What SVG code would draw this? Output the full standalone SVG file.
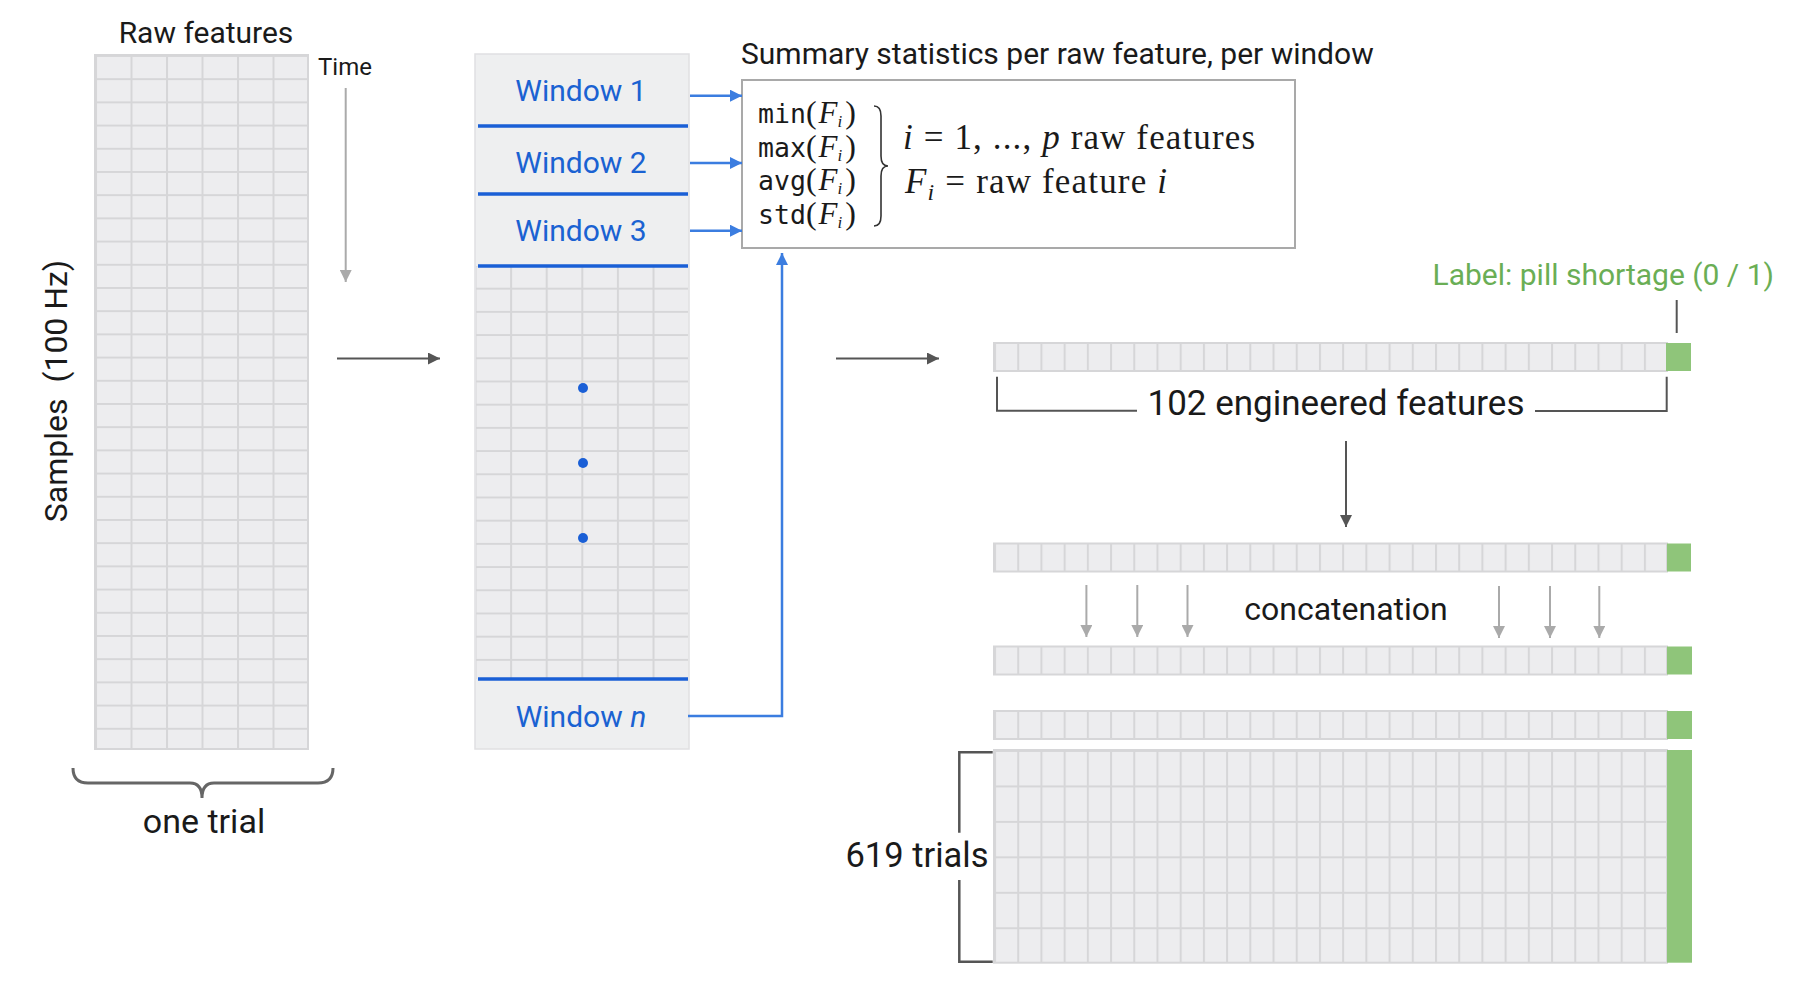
<svg xmlns="http://www.w3.org/2000/svg" width="1796" height="990" viewBox="0 0 1796 990">
<style>
.sans{font-family:Roboto,"Liberation Sans",Arial,sans-serif;fill:#1a1a1a}
.blue{fill:#1a62d2}
.tt{font-family:"DejaVu Sans Mono","Liberation Mono",monospace;font-size:26.5px;fill:#1a1a1a}
.m{font-family:"Liberation Serif","Times New Roman",serif;font-size:32px}
.mi{font-family:"Liberation Serif","Times New Roman",serif;font-size:31px;font-style:italic}
.sub{font-family:"Liberation Serif","Times New Roman",serif;font-size:17px;font-style:italic}
.math{font-family:"Liberation Serif","Times New Roman",serif;font-size:35px;fill:#1a1a1a}
.it{font-style:italic}
.cellbox{stroke:#d6d6d8;stroke-width:2}
.conn-dark{stroke:#555;stroke-width:2;fill:none}
.conn-light{stroke:#aaa;stroke-width:2;fill:none}
.conn-blue{stroke:#3b7de0;stroke-width:2.5;fill:none}
.wline{stroke:#1a5fd6;stroke-width:3.5}
.green{fill:#8fc57a}
</style>
<defs>
<pattern id="pRaw" patternUnits="userSpaceOnUse" x="95" y="55" width="35.5" height="23.2">
<rect width="35.5" height="23.2" fill="#ededef"/>
<path d="M0 1H35.5M1 0V23.2" stroke="#d6d6d8" stroke-width="2"/>
</pattern>
<pattern id="pWin" patternUnits="userSpaceOnUse" x="474.5" y="264.5" width="35.6" height="23.2">
<rect width="35.6" height="23.2" fill="#ededef"/>
<path d="M0 1H35.6M1 0V23.2" stroke="#d6d6d8" stroke-width="2"/>
</pattern>
<pattern id="pRow" patternUnits="userSpaceOnUse" x="994" y="0" width="23.21" height="990">
<rect width="23.21" height="990" fill="#ededef"/>
<path d="M1 0V990" stroke="#d6d6d8" stroke-width="2"/>
</pattern>
<pattern id="pBig" patternUnits="userSpaceOnUse" x="994" y="750" width="23.21" height="35.45">
<rect width="23.21" height="35.45" fill="#ededef"/>
<path d="M0 1H23.21M1 0V35.45" stroke="#d6d6d8" stroke-width="2"/>
</pattern>
<marker id="ahDark" markerUnits="userSpaceOnUse" markerWidth="14" markerHeight="12" refX="12" refY="6" orient="auto">
<path d="M0 0L12 6L0 12Z" fill="#555"/>
</marker>
<marker id="ahLight" markerUnits="userSpaceOnUse" markerWidth="14" markerHeight="12" refX="12" refY="6" orient="auto">
<path d="M0 0L12 6L0 12Z" fill="#aaa"/>
</marker>
<marker id="ahBlue" markerUnits="userSpaceOnUse" markerWidth="14" markerHeight="12" refX="12" refY="6" orient="auto">
<path d="M0 0L12 6L0 12Z" fill="#3b7de0"/>
</marker>
</defs>
<rect width="1796" height="990" fill="#ffffff"/>

<g id="raw-features">
<text class="sans" x="206" y="43" font-size="30" text-anchor="middle">Raw features</text>
<rect x="95" y="55" width="213" height="694" fill="url(#pRaw)" class="cellbox"/>
<text class="sans" x="318" y="75" font-size="24">Time</text>
<text class="sans" x="67" y="391" font-size="32" text-anchor="middle" transform="rotate(-90 67 391)" xml:space="preserve">Samples  (100 Hz)</text>
<path d="M73 768Q73 783 88 783H190Q202 783 202 798Q202 783 214 783H318Q333 783 333 768" fill="none" stroke="#666" stroke-width="3"/>
<text class="sans" x="204" y="833" font-size="34" text-anchor="middle">one trial</text>
</g>

<g id="windows">
<rect x="475" y="54" width="214" height="695" fill="#eeeff0" stroke="#e0e0e2" stroke-width="1.5"/>
<rect x="476" y="266" width="212" height="413" fill="url(#pWin)"/>
<line class="wline" x1="478" y1="126" x2="688" y2="126"/>
<line class="wline" x1="478" y1="194" x2="688" y2="194"/>
<line class="wline" x1="478" y1="266" x2="688" y2="266"/>
<line class="wline" x1="478" y1="679" x2="688" y2="679"/>
<text class="sans blue" x="581" y="101" font-size="30" text-anchor="middle">Window 1</text>
<text class="sans blue" x="581" y="173" font-size="30" text-anchor="middle">Window 2</text>
<text class="sans blue" x="581" y="241" font-size="30" text-anchor="middle">Window 3</text>
<text class="sans blue" x="581" y="727" font-size="30" text-anchor="middle">Window <tspan class="it">n</tspan></text>
<circle cx="583" cy="388" r="5" fill="#1a5fd6"/>
<circle cx="583" cy="463" r="5" fill="#1a5fd6"/>
<circle cx="583" cy="538" r="5" fill="#1a5fd6"/>
</g>

<g id="summary">
<text class="sans" x="741" y="64" font-size="30">Summary statistics per raw feature, per window</text>
<rect x="742" y="80" width="553" height="168" fill="#ffffff" stroke="#a9a9a9" stroke-width="2"/>
<text class="tt" x="758" y="123">min<tspan class="m">(</tspan><tspan class="mi" dx="2">F</tspan><tspan class="sub" dy="4">i</tspan><tspan class="m" dx="3" dy="-4">)</tspan></text>
<text class="tt" x="758" y="156.5">max<tspan class="m">(</tspan><tspan class="mi" dx="2">F</tspan><tspan class="sub" dy="4">i</tspan><tspan class="m" dx="3" dy="-4">)</tspan></text>
<text class="tt" x="758" y="190">avg<tspan class="m">(</tspan><tspan class="mi" dx="2">F</tspan><tspan class="sub" dy="4">i</tspan><tspan class="m" dx="3" dy="-4">)</tspan></text>
<text class="tt" x="758" y="223.5">std<tspan class="m">(</tspan><tspan class="mi" dx="2">F</tspan><tspan class="sub" dy="4">i</tspan><tspan class="m" dx="3" dy="-4">)</tspan></text>
<path d="M874 106Q881 106 881 116V156Q881 166 888 166Q881 166 881 176V216Q881 226 874 226" fill="none" stroke="#333" stroke-width="1.6"/>
<text class="math" x="903" y="149" textLength="352" lengthAdjust="spacing"><tspan class="it">i</tspan> = 1, ..., <tspan class="it">p</tspan> raw features</text>
<text class="math" x="905" y="193" textLength="262" lengthAdjust="spacing"><tspan class="it">F</tspan><tspan class="it" font-size="24" dy="7">i</tspan><tspan dy="-7"> = raw feature </tspan><tspan class="it">i</tspan></text>
</g>

<g id="feature-vector">
<text class="sans" x="1774" y="285" font-size="30" text-anchor="end" style="fill:#6aae55">Label: pill shortage (0 / 1)</text>
<rect x="994" y="343" width="673" height="28" fill="url(#pRow)" class="cellbox"/>
<rect class="green" x="1666" y="343" width="25" height="28"/>
<text class="sans" x="1336" y="415" font-size="35" text-anchor="middle">102 engineered features</text>
</g>

<g id="concatenation">
<rect x="994" y="543.5" width="673" height="28" fill="url(#pRow)" class="cellbox"/>
<rect class="green" x="1667" y="543.5" width="24" height="28"/>
<text class="sans" x="1346" y="620" font-size="32" text-anchor="middle">concatenation</text>
<rect x="994" y="646.5" width="673" height="28" fill="url(#pRow)" class="cellbox"/>
<rect class="green" x="1667" y="646.5" width="25" height="28"/>
</g>

<g id="trials-matrix">
<rect x="994" y="711" width="673" height="28" fill="url(#pRow)" class="cellbox"/>
<rect class="green" x="1667" y="711" width="25" height="28"/>
<rect x="994" y="750" width="673" height="212.7" fill="url(#pBig)" class="cellbox"/>
<rect class="green" x="1667" y="750" width="25" height="212.7"/>
<text class="sans" x="917" y="867" font-size="34.5" text-anchor="middle">619 trials</text>
</g>

<g id="connectors">
<line class="conn-light" x1="345.7" y1="88" x2="345.7" y2="282" marker-end="url(#ahLight)"/>
<line class="conn-dark" x1="337" y1="358.5" x2="440" y2="358.5" marker-end="url(#ahDark)"/>
<line class="conn-dark" x1="836" y1="358.5" x2="939" y2="358.5" marker-end="url(#ahDark)"/>
<line class="conn-blue" x1="690" y1="95.7" x2="742" y2="95.7" marker-end="url(#ahBlue)"/>
<line class="conn-blue" x1="690" y1="163" x2="742" y2="163" marker-end="url(#ahBlue)"/>
<line class="conn-blue" x1="690" y1="230.7" x2="742" y2="230.7" marker-end="url(#ahBlue)"/>
<path class="conn-blue" d="M688 716H782V253" marker-end="url(#ahBlue)"/>
<line class="conn-dark" x1="1676.7" y1="300" x2="1676.7" y2="333"/>
<path class="conn-dark" d="M997 376.7V410.7H1137M1535 411H1666.7V376.7"/>
<line class="conn-dark" x1="1346" y1="441" x2="1346" y2="527" marker-end="url(#ahDark)"/>
<line class="conn-light" x1="1086.4" y1="585" x2="1086.4" y2="637" marker-end="url(#ahLight)"/>
<line class="conn-light" x1="1137.3" y1="585" x2="1137.3" y2="637" marker-end="url(#ahLight)"/>
<line class="conn-light" x1="1187.5" y1="585" x2="1187.5" y2="637" marker-end="url(#ahLight)"/>
<line class="conn-light" x1="1499" y1="586" x2="1499" y2="638" marker-end="url(#ahLight)"/>
<line class="conn-light" x1="1550" y1="586" x2="1550" y2="638" marker-end="url(#ahLight)"/>
<line class="conn-light" x1="1599.3" y1="586" x2="1599.3" y2="638" marker-end="url(#ahLight)"/>
<path d="M992.7 752.3H959.3V832.7M959.3 880V961.7H992.7" fill="none" stroke="#555" stroke-width="2.5"/>
</g>
</svg>
